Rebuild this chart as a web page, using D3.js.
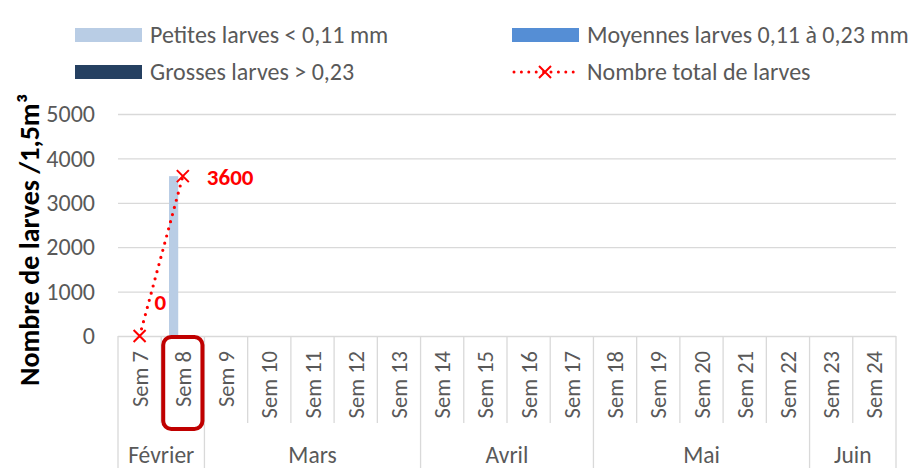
<!DOCTYPE html>
<html>
<head>
<meta charset="utf-8">
<script src="https://cdn.jsdelivr.net/npm/d3@7"></script>
<style>
    body { margin: 0; background: #fff; }
    svg { font-family: Calibri, Carlito, "Liberation Sans", Arial, sans-serif; }
</style>
</head>
<body>
<svg id="graph" width="910" height="468"></svg>
<script>
// Données du graphique
const semaines = ["Sem 7", "Sem 8", "Sem 9", "Sem 10", "Sem 11", "Sem 12", "Sem 13", "Sem 14", "Sem 15",
    "Sem 16", "Sem 17", "Sem 18", "Sem 19", "Sem 20", "Sem 21", "Sem 22", "Sem 23", "Sem 24"];
const moisNoms = ["Février", "Mars", "Avril", "Mai", "Juin"];
const moisNbSemaines = [2, 5, 4, 5, 2];

const petites = [0, 3600, null, null, null, null, null, null, null, null, null, null, null, null, null, null, null, null];
const moyennes = [0, 0, null, null, null, null, null, null, null, null, null, null, null, null, null, null, null, null];
const grosses = [0, 0, null, null, null, null, null, null, null, null, null, null, null, null, null, null, null, null];
const total = [0, 3600, null, null, null, null, null, null, null, null, null, null, null, null, null, null, null, null];

const yTicks = [0, 1000, 2000, 3000, 4000, 5000];
const seriesNoms = ["Petites larves < 0,11 mm", "Moyennes larves 0,11 à 0,23 mm", "Grosses larves > 0,23"];
const seriesCouleurs = ["#b9cde5", "#558ed5", "#254061"];
const ligneNom = "Nombre total de larves";
const semaineSurlignee = "Sem 8";

const gris = "#595959";
const grille = "#d9d9d9";
const rouge = "#ff0000";

let svg = d3.select("svg");

// Échelles
const xScale = d3.scaleBand()
    .domain(semaines)
    .range([118, 896])
    .padding(0);

const yScale = d3.scaleLinear()
    .domain([0, 5000])
    .range([336, 114]);

const groupe = xScale.bandwidth() * 0.64;
const xSub = d3.scaleBand()
    .domain([0, 1, 2])
    .range([(xScale.bandwidth() - groupe) / 2, (xScale.bandwidth() + groupe) / 2]);

// Grille horizontale
svg.append("g")
    .attr("transform", "translate(118,0)")
    .call(d3.axisLeft(yScale).tickValues(yTicks).tickSize(-778).tickFormat(""))
    .call(g => g.select(".domain").remove())
    .call(g => g.selectAll(".tick line").attr("stroke", grille).attr("stroke-width", 1.3));

// Étiquettes de l'axe y
svg.append("g")
    .attr("transform", "translate(118,0)")
    .call(d3.axisLeft(yScale).tickValues(yTicks).tickSize(0).tickPadding(23).tickFormat(d => d))
    .call(g => g.select(".domain").remove())
    .call(g => g.selectAll(".tick text")
        .attr("fill", gris)
        .style("font-size", "24px")
        .style("font-family", "Calibri, Carlito, 'Liberation Sans', Arial, sans-serif"));

// Titre de l'axe y
svg.append("text")
    .attr("transform", "translate(39,240) rotate(-90)")
    .attr("text-anchor", "middle")
    .style("font-size", "28px")
    .style("font-weight", "bold")
    .attr("fill", "#000")
    .text("Nombre de larves /1,5m³");

// Séparateurs de l'axe des catégories
let limitesMois = [0];
moisNbSemaines.forEach((n, i) => limitesMois.push(limitesMois[i] + n));

const bords = d3.range(semaines.length + 1);
svg.append("g")
    .selectAll("line")
    .data(bords)
    .enter()
    .append("line")
    .attr("x1", i => i < semaines.length ? xScale(semaines[i]) : xScale.range()[1])
    .attr("x2", i => i < semaines.length ? xScale(semaines[i]) : xScale.range()[1])
    .attr("y1", yScale(0))
    .attr("y2", i => limitesMois.includes(i) ? 468 : 423)
    .attr("stroke", grille)
    .attr("stroke-width", 1.3);

// Étiquettes des semaines
svg.append("g")
    .selectAll("text")
    .data(semaines)
    .enter()
    .append("text")
    .attr("transform", d => `translate(${xScale(d) + xScale.bandwidth() / 2 + 8},351) rotate(-90)`)
    .attr("text-anchor", "end")
    .attr("fill", gris)
    .style("font-size", "22.5px")
    .text(d => d);

// Étiquettes des mois
svg.append("g")
    .selectAll("text")
    .data(moisNoms)
    .enter()
    .append("text")
    .attr("x", (d, i) => {
        const a = xScale(semaines[limitesMois[i]]);
        const b = xScale(semaines[limitesMois[i + 1] - 1]) + xScale.bandwidth();
        return (a + b) / 2;
    })
    .attr("y", 463)
    .attr("text-anchor", "middle")
    .attr("fill", gris)
    .style("font-size", "23.5px")
    .text(d => d);

// Barres
[petites, moyennes, grosses].forEach((serie, s) => {
    svg.append("g")
        .selectAll("rect")
        .data(semaines.map((sem, i) => ({ sem: sem, v: serie[i] })).filter(d => d.v))
        .enter()
        .append("rect")
        .attr("class", "barre")
        .attr("x", d => xScale(d.sem) + xSub(s))
        .attr("y", d => yScale(d.v))
        .attr("width", xSub.bandwidth())
        .attr("height", d => yScale(0) - yScale(d.v))
        .attr("fill", seriesCouleurs[s]);
});

// Ligne du total
const pointsTotal = semaines.map((sem, i) => ({ sem: sem, v: total[i] }));
const ligne = d3.line()
    .defined(d => d.v !== null)
    .x(d => xScale(d.sem) + xScale.bandwidth() / 2)
    .y(d => yScale(d.v));

svg.append("path")
    .datum(pointsTotal)
    .attr("d", ligne)
    .attr("fill", "none")
    .attr("stroke", rouge)
    .attr("stroke-width", 3.2)
    .attr("stroke-linecap", "round")
    .attr("stroke-dasharray", "0 7.4");

// Marqueurs en croix
const croix = (g, x, y, r) => {
    g.append("path")
        .attr("d", `M${x - r},${y - r}L${x + r},${y + r}M${x - r},${y + r}L${x + r},${y - r}`)
        .attr("stroke", rouge)
        .attr("stroke-width", 2)
        .attr("fill", "none");
};
const marqueurs = svg.append("g");
pointsTotal.filter(d => d.v !== null).forEach(d => {
    croix(marqueurs, xScale(d.sem) + xScale.bandwidth() / 2, yScale(d.v), 6);
});

// Étiquettes de données
svg.append("g")
    .selectAll("text")
    .data(pointsTotal.filter(d => d.v !== null))
    .enter()
    .append("text")
    .attr("x", (d, i) => xScale(d.sem) + xScale.bandwidth() / 2 + (i === 0 ? 15 : 24))
    .attr("y", (d, i) => yScale(d.v) + (i === 0 ? -26 : 9))
    .attr("fill", rouge)
    .style("font-size", "23px")
    .style("font-weight", "bold")
    .text(d => d.v);

// Encadré de la semaine surlignée
svg.append("rect")
    .attr("x", xScale(semaineSurlignee) + 2)
    .attr("y", 337)
    .attr("width", xScale.bandwidth() - 4)
    .attr("height", 92)
    .attr("rx", 8)
    .attr("fill", "none")
    .attr("stroke", "#c00000")
    .attr("stroke-width", 4);

// Légende
const legendePos = [[75, 35], [512, 35], [75, 72]];
seriesNoms.forEach((nom, i) => {
    const [lx, ly] = legendePos[i];
    svg.append("rect")
        .attr("x", lx)
        .attr("y", ly - 7)
        .attr("width", 67)
        .attr("height", 14)
        .attr("fill", seriesCouleurs[i]);
    svg.append("text")
        .attr("x", lx + 75)
        .attr("y", ly + 8)
        .attr("fill", gris)
        .style("font-size", "24px")
        .text(nom);
});

const legLigne = svg.append("g");
legLigne.append("line")
    .attr("x1", 514).attr("x2", 578)
    .attr("y1", 72).attr("y2", 72)
    .attr("stroke", rouge)
    .attr("stroke-width", 3)
    .attr("stroke-linecap", "round")
    .attr("stroke-dasharray", "0 7.4");
croix(legLigne, 545, 72, 6);
legLigne.append("text")
    .attr("x", 587)
    .attr("y", 80)
    .attr("fill", gris)
    .style("font-size", "24px")
    .text(ligneNom);
</script>
</body>
</html>
